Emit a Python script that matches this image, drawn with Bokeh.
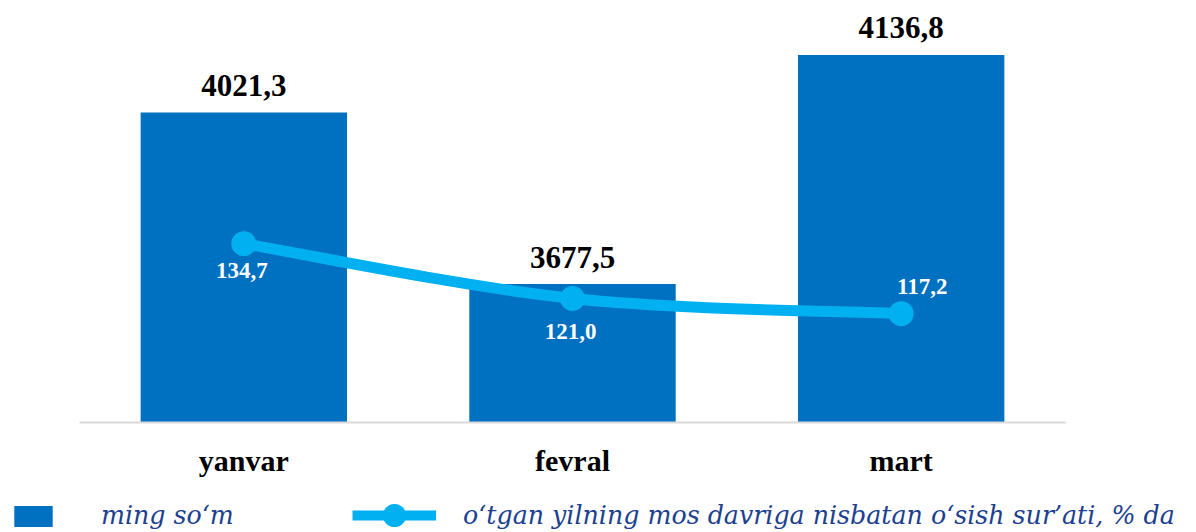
from bokeh.plotting import figure
from bokeh.models import ColumnDataSource, Range1d, Legend, LegendItem
from bokeh.layouts import column
from bokeh.embed import file_html
from bokeh.resources import INLINE
from bokeh.core.properties import value

# ---- data ----
months = ["yanvar", "fevral", "mart"]
amount = [4021.3, 3677.5, 4136.8]          # ming so'm
growth = [134.7, 121.0, 117.2]             # % to same period of previous year

# ---- styles ----
BAR = "#0070C0"
LINE = "#00B0F0"
LEG_TXT = "#203F8F"
growth_dx = [-2, -2, 21]
growth_dy = [27, 33, -27]

fmt = lambda v: f"{v:.1f}".replace(".", ",")

src = ColumnDataSource(dict(
    m=months, amount=amount, amount_lbl=[fmt(v) for v in amount],
    growth=growth, growth_lbl=[fmt(v) for v in growth],
    dx=growth_dx, dy=growth_dy,
))

W = 1196
p = figure(width=W, height=488, x_range=months, y_range=Range1d(3400, 4230),
           output_backend="svg", toolbar_location=None, y_axis_location=None,
           min_border_left=79, min_border_right=131, min_border_top=8, min_border_bottom=66)
p.extra_y_ranges = {"pct": Range1d(90, 193.5)}
p.outline_line_color = None
p.xgrid.visible = False
p.ygrid.visible = False

bars = p.vbar(x="m", top="amount", bottom=3400, width=0.628, source=src,
              fill_color=BAR, line_color=None)

# smooth line through the growth points (cubic bezier segments, Catmull-Rom style)
n = len(growth)
pts = [(i + 0.5, growth[i]) for i in range(n)]
def pt(i):
    return pts[min(max(i, 0), n - 1)]
bz = dict(x0=[], y0=[], x1=[], y1=[], cx0=[], cy0=[], cx1=[], cy1=[])
for i in range(n - 1):
    pa, p0, p1, pb = pt(i - 1), pt(i), pt(i + 1), pt(i + 2)
    bz["x0"].append(p0[0]); bz["y0"].append(p0[1])
    bz["x1"].append(p1[0]); bz["y1"].append(p1[1])
    bz["cx0"].append(p0[0] + (p1[0] - pa[0]) / 6); bz["cy0"].append(p0[1] + (p1[1] - pa[1]) / 6)
    bz["cx1"].append(p1[0] - (pb[0] - p0[0]) / 6); bz["cy1"].append(p1[1] - (pb[1] - p0[1]) / 6)
curve = p.bezier(source=ColumnDataSource(bz), x0="x0", y0="y0", x1="x1", y1="y1",
                 cx0="cx0", cy0="cy0", cx1="cx1", cy1="cy1",
                 line_color=LINE, line_width=11, y_range_name="pct")
dots = p.scatter(x="m", y="growth", source=src, size=25, marker="circle",
                 fill_color=LINE, line_color=None, y_range_name="pct")

p.text(x="m", y="amount", text="amount_lbl", source=src, text_align="center",
       text_baseline="alphabetic", y_offset=-27, text_color="black",
       text_font=value("Liberation Serif"), text_font_style="bold", text_font_size="31px")
p.text(x="m", y="growth", text="growth_lbl", source=src, text_align="center",
       text_baseline="alphabetic", x_offset="dx", y_offset="dy", text_color="white",
       text_font=value("Liberation Serif"), text_font_style="bold", text_font_size="23px",
       y_range_name="pct")

ax = p.xaxis[0]
ax.axis_line_color = "#d9d9d9"
ax.axis_line_width = 2
ax.major_tick_line_color = None
ax.minor_tick_line_color = None
ax.major_label_standoff = 15
ax.major_label_text_font = "Liberation Serif"
ax.major_label_text_font_style = "bold"
ax.major_label_text_font_size = "30px"
ax.major_label_text_color = "black"

# ---- legend strip (own frame spanning the full width) ----
lg = figure(width=W, height=44, x_range=months, y_range=Range1d(0, 1),
            output_backend="svg", toolbar_location=None,
            x_axis_location=None, y_axis_location=None,
            min_border_left=0, min_border_right=0, min_border_top=0, min_border_bottom=0)
lg.frame_align = False
lg.outline_line_color = None
lg.xgrid.visible = False
lg.ygrid.visible = False
lb = lg.vbar(x="m", top="amount", width=0.6, source=src, fill_color=BAR, line_color=None, visible=False)
ll = lg.line(x="m", y="growth", source=src, line_color=LINE, line_width=10, visible=False)
ls = lg.scatter(x="m", y="growth", source=src, size=25, marker="circle",
                fill_color=LINE, line_color=None, visible=False)

def make_legend(items, loc, gw, gh, standoff):
    L = Legend(items=items, location=loc, glyph_width=gw, glyph_height=gh,
               label_standoff=standoff, padding=0, margin=0, spacing=0,
               border_line_color=None, background_fill_alpha=0, inactive_fill_alpha=0,
               label_text_font="DejaVu Serif", label_text_font_style="italic",
               label_text_font_size="25.3px", label_text_color=LEG_TXT)
    lg.add_layout(L, "center")

make_legend([LegendItem(label="ming so\u2018m", renderers=[lb])], (9, 2), 48, 26, 44)
make_legend([LegendItem(label="o\u2018tgan yilning mos davriga nisbatan o\u2018sish sur\u2019ati, % da",
                        renderers=[ll, ls])], (352, -12), 84, 58, 27)

open("out.html", "w").write(file_html(column(p, lg, spacing=0), INLINE))
